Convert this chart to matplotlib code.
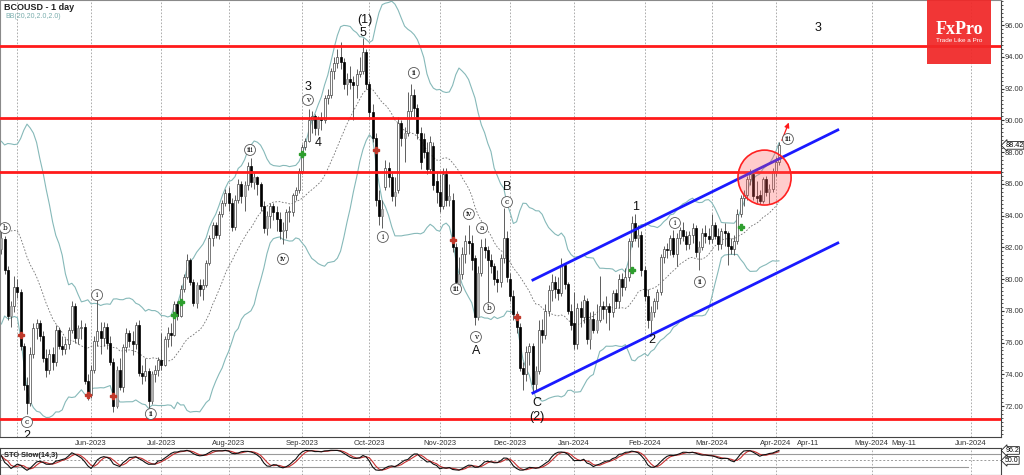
import numpy as np
import pandas as pd
import matplotlib
matplotlib.use("Agg")
import matplotlib.pyplot as plt
from matplotlib.patches import Ellipse, Rectangle
from matplotlib.ticker import MultipleLocator

plt.rcParams["font.family"] = ["Liberation Sans", "DejaVu Sans"]

# BCOUSD daily candles, 24 Apr 2023 .. 2 Apr 2024, one row per month
month_len = [5, 23, 22, 21, 23, 21, 22, 22, 20, 22, 21, 20, 2]
month_lbl = ["", "", "Jun-2023", "Jul-2023", "Aug-2023", "Sep-2023", "Oct-2023",
             "Nov-2023", "Dec-2023", "Jan-2024", "Feb-2024", "Mar-2024", "Apr-2024"]
future_lbl = ["Apr-11", "May-2024", "May-11", "Jun-2024"]
future_days = [10, 30, 40, 61]   # calendar days after 1 Apr 2024

opens = [
    81.9, 82.5, 80.6, 77.7, 78.3,
    79.5, 79.2, 75.8, 73.3, 72.2, 75.3, 76.9, 77.2, 76.4, 75.0, 74.3, 75.3, 74.8, 76.8, 75.8, 75.6, 75.9, 76.8, 78.3, 76.3, 76.9, 77.0, 73.6,
    72.7, 74.3, 76.1, 76.7, 76.3, 77.0, 76.0, 74.8, 72.0, 74.3, 73.2, 75.7, 76.6, 76.1, 75.9, 77.1, 74.1, 73.9, 74.2, 72.3, 74.0, 74.3,
    74.9, 74.6, 76.2, 76.6, 76.5, 78.4, 77.7, 79.4, 80.1, 81.2, 79.8, 78.5, 79.6, 79.4, 79.6, 81.0, 82.6, 83.4, 82.8, 84.1, 84.8,
    85.4, 84.8, 83.3, 85.0, 86.0, 85.2, 85.9, 87.1, 86.1, 86.4, 86.0, 84.6, 83.2, 84.0, 84.6, 84.2, 83.8, 83.0, 83.1, 84.2, 84.2, 85.3, 85.6,
    86.8, 88.3, 88.7, 90.0, 90.3, 89.5, 90.1, 90.0, 91.4, 91.6, 93.1, 93.6, 94.0, 93.7, 92.3, 92.6, 92.4, 92.2, 92.9, 93.1, 94.3,
    92.3, 90.5, 88.9, 85.0, 84.0, 85.8, 87.0, 86.4, 85.2, 85.6, 89.8, 88.9, 89.2, 90.6, 91.6, 90.8, 89.2, 88.8, 88.0, 86.9, 88.4, 86.2,
    85.5, 84.6, 86.6, 85.0, 85.0, 82.0, 79.6, 80.3, 81.6, 82.4, 82.3, 81.3, 77.6, 80.4, 82.0, 81.8, 81.2, 80.8, 80.0, 79.8, 81.3, 82.6,
    80.0, 78.9, 77.8, 77.0, 74.4, 74.0, 75.4, 75.8, 73.4, 74.2, 76.8, 76.5, 78.0, 79.3, 79.8, 79.4, 79.1, 80.9, 79.7, 78.0,
    77.2, 75.9, 78.2, 77.6, 78.6, 76.2, 77.5, 76.8, 77.4, 78.3, 78.1, 78.3, 77.9, 79.1, 78.6, 80.0, 79.5, 80.1, 82.4, 83.5, 82.6, 82.8,
    80.6, 78.9, 77.4, 77.9, 78.6, 79.2, 81.4, 81.9, 81.8, 82.6, 81.6, 82.6, 83.1, 82.7, 82.2, 82.8, 83.2, 81.7, 82.0, 82.9, 82.7,
    82.5, 83.4, 82.7, 82.2, 83.0, 82.9, 82.1, 81.9, 82.4, 84.1, 85.1, 85.3, 86.3, 86.6, 85.2, 85.3, 84.9, 86.3, 85.5, 85.7,
    86.8, 87.4,
]
highs = [
    83.0, 82.7, 80.8, 78.6, 80.2,
    80.0, 79.4, 76.0, 73.8, 75.7, 77.2, 77.5, 77.4, 76.7, 75.6, 75.6, 75.7, 77.1, 77.0, 76.4, 76.3, 77.0, 78.6, 78.5, 77.1, 77.4, 77.2, 74.0,
    74.6, 76.4, 78.7, 77.3, 77.3, 77.2, 76.4, 75.0, 74.5, 75.0, 75.9, 76.9, 76.8, 76.7, 77.3, 77.4, 74.6, 75.0, 74.4, 74.2, 74.6, 75.1,
    76.6, 76.4, 77.0, 77.2, 78.6, 78.6, 79.6, 80.3, 81.6, 81.3, 80.0, 79.8, 80.0, 80.0, 81.2, 82.8, 83.6, 83.6, 84.3, 85.0, 85.7,
    85.8, 85.1, 85.3, 86.3, 86.2, 86.2, 87.4, 87.6, 86.7, 86.5, 86.1, 84.9, 84.3, 84.8, 84.8, 84.6, 84.2, 83.6, 84.4, 84.6, 85.4, 85.8, 87.0,
    88.5, 88.9, 90.7, 90.6, 90.4, 90.3, 90.5, 91.6, 92.0, 93.3, 94.0, 94.5, 94.9, 93.9, 93.0, 93.4, 92.8, 93.2, 94.0, 95.2, 94.5,
    92.5, 91.0, 89.2, 85.6, 85.0, 87.5, 87.4, 86.7, 86.4, 90.2, 90.0, 89.6, 91.8, 92.3, 92.0, 91.0, 89.6, 89.2, 88.6, 89.0, 88.6, 86.8,
    86.6, 87.0, 87.0, 86.0, 85.4, 82.3, 81.4, 82.0, 82.8, 83.4, 82.8, 81.5, 80.8, 82.5, 82.6, 82.1, 81.6, 81.0, 80.6, 81.6, 84.5, 83.0,
    80.4, 79.3, 78.0, 77.2, 74.8, 75.8, 76.0, 76.0, 74.5, 77.4, 77.5, 78.4, 79.6, 80.3, 80.2, 80.1, 81.3, 81.0, 79.8, 78.4,
    79.2, 78.5, 78.6, 79.0, 78.8, 77.9, 78.0, 78.4, 80.2, 78.6, 78.9, 78.5, 79.3, 79.4, 80.3, 80.4, 80.7, 82.6, 84.0, 84.1, 83.4, 83.0,
    80.8, 79.4, 78.3, 78.8, 79.4, 81.6, 82.1, 82.3, 82.8, 83.1, 82.9, 83.3, 83.6, 83.0, 83.0, 83.5, 83.4, 82.4, 83.2, 83.4, 83.2,
    84.1, 83.6, 83.2, 83.2, 83.5, 83.0, 82.6, 82.8, 84.4, 85.3, 85.6, 86.5, 86.9, 86.8, 86.2, 85.6, 86.4, 86.5, 86.0, 87.0,
    87.7, 88.6,
]
lows = [
    81.6, 80.3, 77.4, 77.0, 77.9,
    78.8, 75.5, 73.0, 71.5, 72.0, 75.0, 76.2, 76.1, 74.8, 73.8, 74.0, 74.3, 74.5, 75.6, 75.2, 75.3, 75.6, 76.6, 76.0, 75.9, 76.2, 73.4, 72.4,
    72.5, 74.1, 75.8, 75.3, 75.8, 75.6, 74.6, 71.6, 71.9, 73.0, 72.9, 75.4, 75.7, 75.2, 75.6, 73.9, 73.4, 73.6, 71.9, 72.1, 73.5, 73.9,
    74.3, 74.5, 75.7, 75.8, 76.4, 77.4, 77.6, 79.2, 80.0, 79.6, 78.3, 78.2, 78.9, 78.7, 79.5, 80.9, 82.1, 82.6, 82.5, 83.9, 84.6,
    84.3, 83.0, 83.1, 84.8, 84.8, 84.3, 85.6, 85.8, 85.7, 85.3, 84.3, 82.9, 82.8, 83.2, 83.7, 83.0, 82.5, 82.2, 82.6, 83.6, 84.0, 85.0, 85.4,
    86.6, 88.1, 88.6, 89.2, 89.1, 89.1, 89.4, 89.8, 91.0, 91.4, 92.6, 93.3, 93.2, 92.0, 91.6, 92.0, 90.0, 91.4, 92.7, 92.9, 92.0,
    90.2, 88.6, 84.6, 83.4, 83.2, 85.6, 85.8, 84.9, 84.6, 85.4, 88.4, 87.4, 89.0, 90.2, 90.2, 88.8, 86.9, 87.6, 86.6, 86.7, 85.6, 84.8,
    84.2, 84.4, 84.6, 84.6, 81.7, 79.3, 79.4, 80.0, 81.0, 81.6, 80.6, 77.1, 77.4, 80.2, 81.3, 78.5, 80.4, 79.6, 79.2, 79.5, 81.0, 79.8,
    78.6, 77.4, 76.6, 74.2, 73.0, 73.6, 74.6, 72.8, 73.0, 74.0, 76.0, 76.2, 77.7, 78.6, 78.8, 78.7, 78.9, 79.4, 77.8, 76.8,
    75.6, 75.6, 77.0, 77.2, 75.9, 75.6, 76.6, 76.6, 77.3, 77.5, 77.2, 76.8, 77.6, 78.2, 78.2, 78.9, 79.3, 79.9, 82.0, 82.4, 82.0, 80.2,
    78.6, 76.9, 76.4, 77.6, 78.1, 79.0, 81.0, 81.3, 81.5, 81.4, 80.8, 82.2, 82.4, 81.8, 81.9, 82.3, 81.4, 80.6, 81.8, 82.3, 82.2,
    82.3, 82.5, 81.8, 81.9, 82.1, 80.9, 81.6, 81.5, 82.2, 83.9, 84.6, 85.0, 85.9, 85.0, 84.8, 84.7, 84.8, 85.2, 84.7, 85.5,
    86.5, 87.2,
]
closes = [
    82.6, 80.6, 77.7, 78.3, 79.5,
    79.2, 75.8, 73.3, 72.2, 75.3, 76.9, 77.2, 76.4, 75.0, 74.3, 75.3, 74.8, 76.8, 75.8, 75.6, 75.9, 76.8, 78.3, 76.3, 76.9, 77.0, 73.6, 72.7,
    74.3, 76.1, 76.7, 76.3, 77.0, 76.0, 74.8, 72.0, 74.3, 73.2, 75.7, 76.6, 76.1, 75.9, 77.1, 74.1, 73.9, 74.2, 72.3, 74.0, 74.3, 74.9,
    74.6, 76.2, 76.6, 76.5, 78.4, 77.7, 79.4, 80.1, 81.2, 79.8, 78.5, 79.6, 79.4, 79.6, 81.0, 82.6, 83.4, 82.8, 84.1, 84.8, 85.4,
    84.8, 83.3, 85.0, 86.0, 85.2, 85.9, 87.1, 86.1, 86.4, 86.0, 84.6, 83.2, 84.0, 84.6, 84.2, 83.8, 83.0, 83.1, 84.2, 84.2, 85.3, 85.6, 86.8,
    88.3, 88.7, 90.0, 90.3, 89.5, 90.1, 90.0, 91.4, 91.6, 93.1, 93.6, 94.0, 93.7, 92.3, 92.6, 92.4, 92.2, 92.9, 93.1, 94.3, 92.3,
    90.5, 88.9, 85.0, 84.0, 84.4, 87.0, 86.4, 85.2, 85.5, 89.8, 88.9, 89.2, 90.6, 91.6, 90.8, 89.2, 87.4, 88.0, 86.9, 88.6, 85.9, 85.5,
    84.6, 86.6, 85.0, 85.2, 82.0, 79.8, 80.3, 81.6, 82.4, 82.3, 81.2, 77.6, 80.4, 82.0, 81.8, 81.2, 80.8, 80.0, 79.8, 81.3, 82.6, 80.1,
    78.9, 77.8, 77.0, 74.4, 74.0, 75.4, 75.8, 73.4, 74.2, 76.8, 76.5, 78.0, 79.3, 79.8, 79.4, 79.1, 80.9, 79.7, 78.0, 77.1,
    75.9, 78.2, 77.6, 78.7, 76.2, 77.5, 76.8, 77.4, 78.3, 78.1, 78.3, 77.9, 79.1, 78.6, 80.0, 79.5, 80.1, 82.4, 83.5, 82.6, 82.8, 80.6,
    78.9, 77.4, 77.9, 78.6, 79.2, 81.4, 81.9, 81.8, 82.6, 81.6, 82.6, 83.1, 82.7, 82.2, 82.8, 83.2, 81.7, 82.0, 82.9, 82.7, 82.5,
    83.4, 82.7, 82.2, 83.0, 82.9, 82.1, 81.9, 82.4, 84.1, 85.1, 85.3, 86.3, 86.6, 85.2, 85.1, 84.9, 86.3, 85.5, 85.7, 86.8,
    87.4, 88.42,
]
# closes of the 20 sessions before the first candle (for the Bollinger warm-up)
warmup_closes = [74.9, 77.9, 78.4, 78.1, 79.0, 79.6, 84.6, 84.8, 84.9, 84.9,
                 84.1, 85.4, 87.0, 86.0, 86.2, 84.7, 84.6, 83.0, 81.0, 81.6]

# analyst markup (bar index, price)
levels = [94.68, 90.12, 86.76, 71.16]
chan_x = [166.1, 261.4]
chan_upper = [79.94, 89.39]
chan_lower = [72.82, 82.27]
wave_circled = [("b", 1.1, 83.21), ("c", 8.0, 70.99), ("i", 29.9, 78.99), ("ii", 46.7, 71.50),
                ("iii", 77.7, 88.13), ("iv", 88.0, 81.26), ("v", 95.8, 91.28), ("i", 119.2, 82.65),
                ("ii", 128.9, 92.98), ("iii", 142.1, 79.37), ("iv", 146.1, 84.09), ("v", 148.3, 76.35),
                ("a", 150.2, 83.21), ("b", 152.4, 78.17), ("c", 158.0, 84.85), ("i", 210.5, 83.53),
                ("ii", 218.3, 79.81), ("iii", 245.8, 88.82)]
wave_plain = [("2", 8.0, 70.10), ("3", 95.8, 92.09), ("4", 98.9, 88.57), ("(1)", 113.6, 96.31),
              ("5", 113.0, 95.50), ("B", 158.0, 85.80), ("A", 148.3, 75.46), ("C", 167.4, 72.19),
              ("(2)", 167.4, 71.31), ("1", 198.3, 84.54), ("2", 203.3, 76.16), ("3", 255.2, 95.81)]
buy_marks = [(54, 77.73), (56, 78.55), (94, 87.87), (197, 80.57), (231, 83.28)]
sell_marks = [(6, 76.47), (27, 72.69), (35, 72.63), (117, 88.13), (141, 82.46), (161, 77.61)]
circle_xy = (238.5, 86.39)
arrow_from = (243.6, 88.57)
arrow_to = (246.4, 90.02)

o, h, l, c = (np.array(a, dtype=float) for a in (opens, highs, lows, closes))
n = len(c)
x = np.arange(n)

# indicators
s = pd.Series(warmup_closes + closes)
mid = s.rolling(20).mean()
sd = s.rolling(20).std(ddof=0)
bb_mid = mid.values[-n:]
bb_up = (mid + 2 * sd).values[-n:]
bb_lo = (mid - 2 * sd).values[-n:]

hh = pd.Series(h).rolling(14, min_periods=1).max()
ll = pd.Series(l).rolling(14, min_periods=1).min()
fast_k = 100 * (pd.Series(c) - ll) / (hh - ll)
slow_k = fast_k.rolling(3, min_periods=1).mean()
slow_d = slow_k.rolling(3, min_periods=1).mean()

starts = np.concatenate([[0], np.cumsum(month_len)[:-1]])
apr1 = starts[-1]

fig = plt.figure(figsize=(10.24, 4.75), dpi=100)
W, H = 1024, 475
ax = fig.add_axes([0, 38 / H, 1001 / W, 437 / H])
st = fig.add_axes([0, 0.5 / H, 1001 / W, 27 / H], sharex=ax)

xmin, xmax = -0.44, 312.4
ax.set_xlim(xmin, xmax)
ax.set_ylim(70.05, 97.575)

# grid at month starts
for p in list(starts[1:]) + [apr1 + 30, apr1 + 61]:
    ax.axvline(p, color="#a0a0a0", lw=0.6, ls=(0, (2, 2)), zorder=0)
    st.axvline(p, color="#a0a0a0", lw=0.6, ls=(0, (2, 2)), zorder=0)

# bollinger
ax.plot(x, bb_up, color="#86b9b9", lw=0.8, zorder=1)
ax.plot(x, bb_lo, color="#86b9b9", lw=0.8, zorder=1)
ax.plot(x, bb_mid, color="#707070", lw=0.6, ls=(0, (2, 2)), zorder=1)

# candles
up = c >= o
prev_top = np.r_[np.inf, np.maximum(o, c)[:-1]]
gray = up & (c < prev_top)
face = np.where(~up, "black", np.where(gray, "#b4b4b4", "white"))
edge = np.where(~up, "black", np.where(gray, "#8a8a8a", "#444444"))
ax.vlines(x, l, h, color="#444444", lw=0.6, zorder=2)
body_lo = np.minimum(o, c)
body_h = np.maximum(np.abs(c - o), 0.06)
ax.bar(x, body_h, bottom=body_lo, width=0.65, color=face, edgecolor=edge, linewidth=0.5, zorder=3)

# horizontal levels
for v in levels:
    ax.axhline(v, color="#ff1a1a", lw=2, zorder=4)

# channel
ax.plot(chan_x, chan_upper, color="#1a1aff", lw=2, zorder=5)
ax.plot(chan_x, chan_lower, color="#1a1aff", lw=2, zorder=5)

# signal marks
for k, p in buy_marks:
    ax.plot(k, p, marker="P", ms=4, color="#2e9e2e", mec="#2e9e2e", zorder=6)
for k, p in sell_marks:
    ax.plot(k, p, marker="P", ms=4, color="#c0392b", mec="#c0392b", zorder=6)

# breakout circle and arrow
ax.add_patch(Ellipse(circle_xy, 16.6, 3.46, fc=(1, 0.35, 0.35, 0.3), ec="#ff2020", lw=1.2, zorder=6))
ax.annotate("", xy=arrow_to, xytext=arrow_from,
            arrowprops=dict(arrowstyle="-|>", color="#ff1a1a", lw=0.9, mutation_scale=7), zorder=7)

# wave labels
for t, k, p in wave_circled:
    ax.text(k, p, t, fontsize=5.3, family="DejaVu Serif", ha="center", va="center", zorder=8,
            bbox=dict(boxstyle="circle,pad=0.2", fc="white", ec="#555555", lw=0.6))
for t, k, p in wave_plain:
    ax.text(k, p, t, fontsize=9, ha="center", va="center", color="#111111", zorder=8, clip_on=True)

# axes styling
ax.yaxis.tick_right()
ax.set_yticks(np.arange(72, 97, 2))
ax.set_yticklabels([f"{v:.2f}" for v in np.arange(72, 97, 2)])
ax.yaxis.set_minor_locator(MultipleLocator(0.25))
ax.tick_params(axis="y", which="major", length=2, labelsize=5.4, colors="#333333", pad=0.5)
ax.tick_params(axis="y", which="minor", length=1.2, colors="#333333")
tick_pos = list(starts[2:]) + [apr1 + d for d in future_days]
tick_lbl = month_lbl[2:] + future_lbl
ax.set_xticks(tick_pos)
ax.set_xticklabels(tick_lbl)
ax.tick_params(axis="x", length=0, pad=2.5, labelsize=5.5, colors="#333333")
for side in ["top", "left"]:
    ax.spines[side].set_color("#8a8a8a")
for side in ["right", "bottom"]:
    ax.spines[side].set_color("#444444")

ax.annotate(f"{closes[-1]:.2f}", xy=(1, closes[-1]), xycoords=("axes fraction", "data"),
            xytext=(3, 0), textcoords="offset points", ha="left", va="center", fontsize=5.2,
            bbox=dict(boxstyle="larrow,pad=0.05", fc="white", ec="#222222", lw=0.6),
            annotation_clip=False, zorder=9)

ax.text(4 / 1001, 1 - 7 / 437, "BCOUSD - 1 day", transform=ax.transAxes, fontsize=6.5,
        weight="bold", va="center", ha="left", color="#222222")
ax.text(5 / 1001, 1 - 17 / 437, "BB(20,20,2.0,2.0)", transform=ax.transAxes, fontsize=5,
        va="center", ha="left", color="#7aaeae")

# stochastic panel
st.set_ylim(-15, 110)
st.axhline(80, color="#9a9a9a", lw=0.8)
st.axhline(20, color="#9a9a9a", lw=0.8, xmax=(apr1 + 60 - xmin) / (xmax - xmin))
st.axhline(50, color="#9a9a9a", lw=0.7, ls=(0, (2, 2)))
st.plot(x, slow_d, color="#c83030", lw=0.8)
st.plot(x, slow_k, color="#111111", lw=0.8)
st.set_yticks([])
st.tick_params(axis="x", length=0, labelbottom=False)
for side in st.spines:
    st.spines[side].set_color("#444444")
st.text(4 / 1001, 0.72, "STO Slow(14,3)", transform=st.transAxes, fontsize=5.3,
        weight="bold", va="center", ha="left", color="#222222")
for val in [slow_k.iloc[-1], 50.0]:
    st.annotate(f"{val:.1f}", xy=(1, val), xycoords=("axes fraction", "data"),
                xytext=(3, 0), textcoords="offset points", ha="left", va="center", fontsize=5,
                bbox=dict(boxstyle="larrow,pad=0.05", fc="white", ec="#222222", lw=0.6),
                annotation_clip=False)

# FxPro badge
fig.patches.append(Rectangle((927 / W, 1 - 64 / H), 64 / W, 64 / H, transform=fig.transFigure,
                             fc="#f02727", ec="none", alpha=0.93, zorder=10))
fig.text(959 / W, 1 - 29 / H, "FxPro", fontsize=13, family="Liberation Serif", weight="bold",
         color="white", ha="center", va="center", zorder=11)
fig.text(959 / W, 1 - 41 / H, "Trade Like a Pro", fontsize=4.6, color="white",
         ha="center", va="center", zorder=11)

fig.savefig("out.png", dpi=100)
